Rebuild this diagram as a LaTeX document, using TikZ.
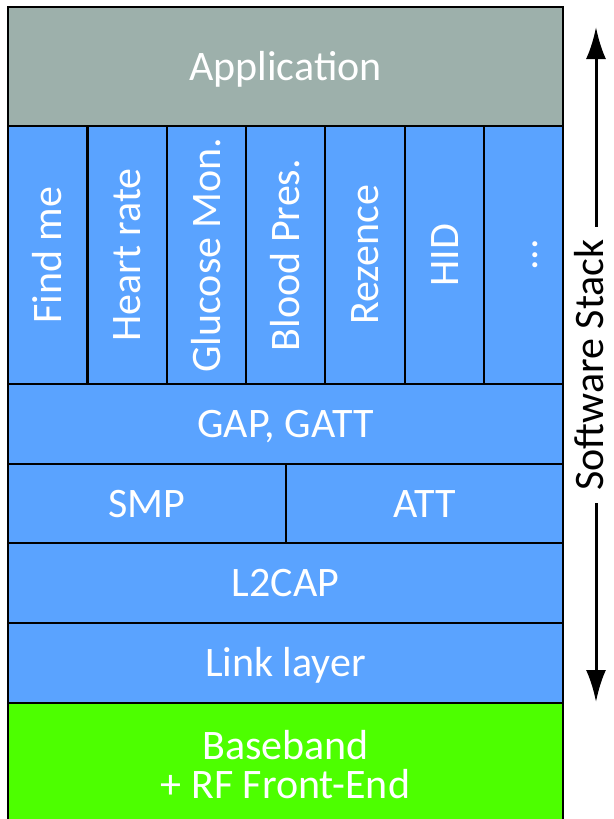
\documentclass[tikz,border=0pt]{standalone}
\usepackage{fontspec}
\setmainfont{Carlito}
\usetikzlibrary{arrows.meta}
\definecolor{appgray}{HTML}{9DB0AB}
\definecolor{stackblue}{HTML}{5AA3FF}
\definecolor{rfgreen}{HTML}{4DFF00}
\tikzset{
  layer/.style={draw=black, line width=2.5pt},
  lbltext/.style={text=white, font=\fontsize{42}{39}\selectfont, align=center},
  lbl/.style={lbltext, text height=27pt, text depth=0pt},
  vlbl/.style={lbl, rotate=90}
}
\begin{document}
\begin{tikzpicture}[x=1pt,y=-1pt]
\useasboundingbox (0,0) rectangle (613,819);
\begin{scope}
\clip (0,0) rectangle (613,819);
\draw[layer, fill=appgray] (8,7) rectangle (563,126) node[midway,lbl] (app) {Application};
% profiles
\draw[layer, fill=stackblue] (8,126) rectangle (87.5,384) node[midway,vlbl] (findme) {Find me};
\draw[layer, fill=stackblue] (87.5,126) rectangle (167,384) node[midway,vlbl] (heart) {Heart rate};
\draw[layer, fill=stackblue] (167,126) rectangle (246,384) node[midway,vlbl] (glucose) {Glucose Mon.};
\draw[layer, fill=stackblue] (246,126) rectangle (325,384) node[midway,vlbl] (blood) {Blood Pres.};
\draw[layer, fill=stackblue] (325,126) rectangle (405,384) node[midway,vlbl] (rezence) {Rezence};
\draw[layer, fill=stackblue] (405,126) rectangle (484,384) node[midway,vlbl] (hid) {HID};
\draw[layer, fill=stackblue] (484,126) rectangle (563,384) node[midway,vlbl] (more) {...};
\draw[layer, fill=stackblue] (8,384) rectangle (563,464) node[midway,lbl] (gap) {GAP, GATT};
\draw[layer, fill=stackblue] (8,464) rectangle (286,543) node[midway,lbl] (smp) {SMP};
\draw[layer, fill=stackblue] (286,464) rectangle (563,543) node[midway,lbl] (att) {ATT};
\draw[layer, fill=stackblue] (8,543) rectangle (563,623) node[midway,lbl] (l2cap) {L2CAP};
\draw[layer, fill=stackblue] (8,623) rectangle (563,703) node[midway,lbl] (link) {Link layer};
\draw[layer, fill=rfgreen] (8,703) rectangle (563,840);
\node[lbltext] (rf) at (285.5,765) {Baseband\\+ RF Front-End};
\end{scope}
% stack arrow
\coordinate (stacktop) at (596,27);
\coordinate (stackbot) at (596,702);
\draw[line width=3pt, {Latex[length=32pt,width=20pt]}-{Latex[length=32pt,width=20pt]}] (stacktop) -- (stackbot);
\node[fill=white, rotate=90, anchor=base, font=\fontsize{42}{42}\selectfont, inner xsep=12pt, inner ysep=2pt] (swstack) at (603,365) {Software Stack};
\end{tikzpicture}
\end{document}
